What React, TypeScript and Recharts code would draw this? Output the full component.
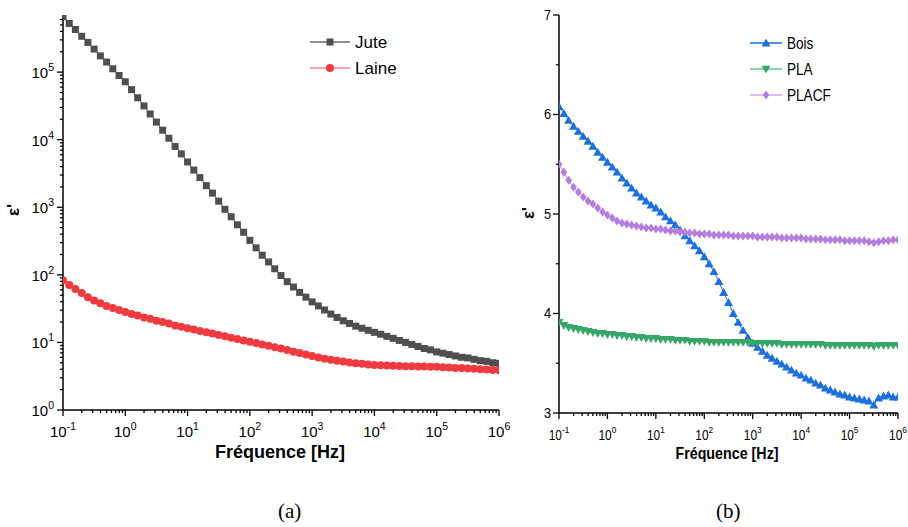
import React from 'react'
import { LineChart, Line, XAxis, YAxis } from 'recharts'

// frequency points (Hz), 10 per decade
const freq = [
  0.1, 0.126, 0.158, 0.2, 0.251, 0.316, 0.398, 0.501, 0.631, 0.794,
  1, 1.26, 1.58, 2, 2.51, 3.16, 3.98, 5.01, 6.31, 7.94,
  10, 12.6, 15.8, 20, 25.1, 31.6, 39.8, 50.1, 63.1, 79.4,
  100, 126, 158, 200, 251, 316, 398, 501, 631, 794,
  1000, 1259, 1585, 1995, 2512, 3162, 3981, 5012, 6310, 7943,
  1e4, 12589, 15849, 19953, 25119, 31623, 39811, 50119, 63096, 79433,
  1e5, 125893, 158489, 199526, 251189, 316228, 398107, 501187, 630957, 794328,
  1e6,
]

// (a) permittivity, log scale
const jute = [
  6.6e5, 5.25e5, 4.27e5, 3.39e5, 2.75e5, 2.19e5, 1.74e5, 1.41e5, 1.12e5, 8.9e4,
  7.2e4, 5.5e4, 4.17e4, 3.16e4, 2.4e4, 1.82e4, 1.38e4, 1.05e4, 7940, 6170,
  4680, 3550, 2750, 2090, 1620, 1230, 933, 724, 550, 427,
  324, 251, 195, 155, 123, 97.7, 79.4, 66.1, 55, 46.8,
  39.8, 34.7, 30.2, 26.3, 23.4, 20.9, 19.1, 17.4, 16.2, 15.1,
  14.1, 13.2, 12.3, 11.5, 10.7, 10.0, 9.33, 8.71, 8.13, 7.76,
  7.24, 6.92, 6.61, 6.31, 6.03, 5.89, 5.62, 5.37, 5.25, 5.01,
  4.9,
]
const laine = [
  83.2, 70.8, 61.7, 53.7, 46.8, 41.7, 38.0, 34.7, 32.4, 30.2,
  28.2, 26.3, 25.1, 23.4, 22.4, 20.9, 20.0, 19.1, 17.8, 17.0,
  16.2, 15.5, 14.8, 14.1, 13.5, 12.9, 12.3, 11.7, 11.2, 10.7,
  10.2, 9.8, 9.35, 8.9, 8.5, 8.1, 7.7, 7.3, 6.95, 6.6,
  6.3, 6.0, 5.75, 5.55, 5.37, 5.2, 5.06, 4.93, 4.82, 4.72,
  4.65, 4.6, 4.55, 4.5, 4.47, 4.45, 4.43, 4.41, 4.39, 4.37,
  4.35, 4.3, 4.27, 4.2, 4.17, 4.1, 4.07, 4.0, 3.97, 3.92,
  3.89,
]

// (b) permittivity, linear scale
const bois = [
  6.08, 6.01, 5.94, 5.88, 5.83, 5.78, 5.73, 5.68, 5.62, 5.57,
  5.52, 5.47, 5.42, 5.36, 5.31, 5.26, 5.21, 5.17, 5.13, 5.09,
  5.06, 5.02, 4.97, 4.93, 4.89, 4.84, 4.78, 4.73, 4.68, 4.63,
  4.57, 4.5, 4.42, 4.32, 4.21, 4.11, 4.0, 3.91, 3.83, 3.76,
  3.7, 3.66, 3.62, 3.58, 3.55, 3.52, 3.49, 3.46, 3.43, 3.4,
  3.38, 3.35, 3.33, 3.3, 3.28, 3.25, 3.23, 3.21, 3.19, 3.18,
  3.16, 3.15, 3.14, 3.13, 3.12, 3.08, 3.15, 3.17, 3.18, 3.16,
  3.16,
]
const pla = [
  3.91, 3.88, 3.86, 3.85, 3.84, 3.83, 3.82, 3.81, 3.8, 3.8,
  3.79, 3.79, 3.78, 3.78, 3.77, 3.77, 3.76, 3.76, 3.75, 3.75,
  3.75, 3.74, 3.74, 3.74, 3.73, 3.73, 3.73, 3.72, 3.72, 3.72,
  3.72, 3.71, 3.71, 3.71, 3.71, 3.71, 3.71, 3.71, 3.71, 3.71,
  3.7, 3.7, 3.7, 3.7, 3.7, 3.7, 3.69, 3.69, 3.69, 3.69,
  3.69, 3.69, 3.69, 3.69, 3.69, 3.68, 3.68, 3.68, 3.68, 3.68,
  3.68, 3.68, 3.68, 3.68, 3.68, 3.67, 3.68, 3.68, 3.68, 3.68,
  3.68,
]
const placf = [
  5.5, 5.42, 5.34, 5.27, 5.22, 5.17, 5.13, 5.1, 5.06, 5.02,
  4.99, 4.96, 4.93, 4.91, 4.9, 4.89, 4.88, 4.87, 4.86, 4.86,
  4.85, 4.85, 4.84, 4.83, 4.83, 4.82, 4.82, 4.81, 4.81, 4.8,
  4.8, 4.8, 4.79, 4.79, 4.79, 4.79, 4.78, 4.78, 4.78, 4.78,
  4.78, 4.77, 4.77, 4.77, 4.77, 4.77, 4.76, 4.76, 4.76, 4.76,
  4.76, 4.75, 4.75, 4.75, 4.75, 4.74, 4.74, 4.74, 4.74, 4.73,
  4.73, 4.73, 4.73, 4.73, 4.72, 4.71, 4.72, 4.73, 4.73, 4.74,
  4.74,
]

const decadesX = [0.1, 1, 10, 100, 1000, 1e4, 1e5]
const decadesY = [1, 10, 100, 1000, 1e4, 1e5]
const linTicksB = [3, 3.5, 4, 4.5, 5, 5.5, 6, 6.5, 7]

const SANS = '"Liberation Sans", Arial, sans-serif'

const logTicks = (decades: number[], last: number) => {
  const out: number[] = []
  decades.forEach(d => {
    for (let m = 1; m <= 9; m++) out.push(d * m)
  })
  return out.filter(v => v <= last * 1.0001).concat(decades.includes(last) ? [] : [last])
}
const xTicks = logTicks(decadesX, 1e6)
const yTicksA = [...logTicks(decadesY, 1e5), 2e5, 3e5, 4e5, 5e5, 6e5]

const isDecade = (v: number) => Math.abs(Math.log10(v) - Math.round(Math.log10(v))) < 1e-6
const expOf = (v: number) => Math.round(Math.log10(v))

const dataA = freq.map((f, i) => ({ f, jute: jute[i], laine: laine[i] }))
const dataB = freq.map((f, i) => ({ f, bois: bois[i], pla: pla[i], placf: placf[i] }))

type Shape = 'square' | 'circle' | 'up' | 'down' | 'diamond'

function Marker({ cx, cy, shape, color, size }: { cx: number; cy: number; shape: Shape; color: string; size: number }) {
  const h = size / 2
  if (shape === 'square') return <rect x={cx - h} y={cy - h} width={size} height={size} fill={color} />
  if (shape === 'circle') return <circle cx={cx} cy={cy} r={h} fill={color} />
  if (shape === 'up') return <polygon points={`${cx},${cy - h} ${cx + h},${cy + h * 0.75} ${cx - h},${cy + h * 0.75}`} fill={color} />
  if (shape === 'down') return <polygon points={`${cx},${cy + h} ${cx + h},${cy - h * 0.75} ${cx - h},${cy - h * 0.75}`} fill={color} />
  return <polygon points={`${cx},${cy - h} ${cx + h * 0.75},${cy} ${cx},${cy + h} ${cx - h * 0.75},${cy}`} fill={color} />
}

const dotFor = (shape: Shape, color: string, size: number) => (p: any) =>
  p.cx == null || p.cy == null ? <g key={`n-${p.index}`} /> : (
    <Marker key={`d-${p.index}`} cx={p.cx} cy={p.cy} shape={shape} color={color} size={size} />
  )

// condensed look for panel (b): squeeze plain sans text horizontally
const squeeze = (x: number, k: number) => `translate(${x} 0) scale(${k} 1) translate(${-x} 0)`

function LogXTick(p: any) {
  const { x, y, payload, size, k } = p
  const v = payload.value
  const major = isDecade(v)
  return (
    <g>
      <line x1={x} x2={x} y1={y} y2={y + (major ? 6 : 3)} stroke="#000" strokeWidth={1.3} />
      {major && (
        <text x={x} y={y + 27} textAnchor="middle" fontFamily={SANS} fontSize={size} fill="#000" transform={squeeze(x, k)}>
          <tspan>10</tspan>
          <tspan dy={-7} fontSize={size * 0.7}>{expOf(v)}</tspan>
        </text>
      )}
    </g>
  )
}

function LogYTick(p: any) {
  const { x, y, payload } = p
  const v = payload.value
  const major = isDecade(v)
  return (
    <g>
      <line x1={x - (major ? 6 : 3)} x2={x} y1={y} y2={y} stroke="#000" strokeWidth={1.3} />
      {major && (
        <text x={x - 9} y={y + 6} textAnchor="end" fontFamily={SANS} fontSize={15} fill="#000">
          <tspan>10</tspan>
          <tspan dy={-7} fontSize={10.5}>{expOf(v)}</tspan>
        </text>
      )}
    </g>
  )
}

function LinYTick(p: any) {
  const { x, y, payload } = p
  const v = payload.value
  const major = Number.isInteger(v)
  return (
    <g>
      <line x1={x - (major ? 6 : 3)} x2={x} y1={y} y2={y} stroke="#000" strokeWidth={1.3} />
      {major && (
        <text x={x - 8} y={y + 5} textAnchor="end" fontFamily={SANS} fontSize={15} fill="#000" transform={squeeze(x - 8, 0.85)}>
          {v}
        </text>
      )}
    </g>
  )
}

const seriesA = [
  { key: 'jute', name: 'Jute', color: '#4f4f4f', line: '#6a6a6a', shape: 'square' as Shape, size: 7 },
  { key: 'laine', name: 'Laine', color: '#ef3b3f', line: '#f58a8c', shape: 'circle' as Shape, size: 8 },
]
const seriesB = [
  { key: 'bois', name: 'Bois', color: '#1c6fdf', line: '#1c6fdf', shape: 'up' as Shape, size: 9 },
  { key: 'pla', name: 'PLA', color: '#37a768', line: '#6cc193', shape: 'down' as Shape, size: 9 },
  { key: 'placf', name: 'PLACF', color: '#b47ddf', line: '#cfa8ec', shape: 'diamond' as Shape, size: 9 },
]

function LegendBox({ items, width, gap, lineLen, fontSize, k }: any) {
  return (
    <svg width={width} height={items.length * gap + 6} style={{ display: 'block' }}>
      {items.map((s: any, i: number) => {
        const cy = 13 + i * gap
        const tx = lineLen + 7
        return (
          <g key={s.key}>
            <line x1={2} x2={2 + lineLen} y1={cy} y2={cy} stroke={s.line} strokeWidth={1.5} />
            <Marker cx={2 + lineLen / 2} cy={cy} shape={s.shape} color={s.color} size={s.size} />
            <text x={tx} y={cy + 6} fontFamily={SANS} fontSize={fontSize} fill="#000" transform={squeeze(tx, k)}>{s.name}</text>
          </g>
        )
      })}
    </svg>
  )
}

const axisLine = { stroke: '#000', strokeWidth: 1.5 }

export default function App() {
  return (
    <div style={{ position: 'absolute', left: 0, top: 0, width: 908, height: 527, background: '#fff', overflow: 'hidden' }}>
      <div style={{ position: 'absolute', left: 0, top: 0 }}>
        <LineChart width={520} height={470} data={dataA} margin={{ top: 15, right: 21, left: 8, bottom: 0 }}>
          <XAxis
            dataKey="f" type="number" scale="log" domain={[0.1, 1e6]} allowDataOverflow
            ticks={xTicks} interval={0} tickSize={0} tickMargin={0} tickLine={false}
            axisLine={axisLine} height={60}
            tick={(p: any) => <LogXTick {...p} size={15} k={1} />}
            label={() => (
              <text x={280} y={458} textAnchor="middle" fontFamily={SANS} fontWeight="bold" fontSize={18} fill="#000">
                Fréquence [Hz]
              </text>
            )}
          />
          <XAxis xAxisId="top" orientation="top" dataKey="f" type="number" scale="log" domain={[0.1, 1e6]} height={0} tick={false} tickLine={false} axisLine={axisLine} />
          <YAxis
            type="number" scale="log" domain={[1, 7e5]} allowDataOverflow
            ticks={yTicksA} interval={0} tickSize={0} tickMargin={0} tickLine={false}
            axisLine={axisLine} width={55}
            tick={(p: any) => <LogYTick {...p} />}
            label={() => (
              <text x={19} y={210} transform="rotate(-90 19 210)" textAnchor="middle" fontFamily={SANS} fontWeight="bold" fontSize={17} fill="#000">
                ε'
              </text>
            )}
          />
          <YAxis yAxisId="right" orientation="right" width={0} tick={false} tickLine={false} axisLine={axisLine} />
          {seriesA.map(s => (
            <Line key={s.key} dataKey={s.key} name={s.name} stroke={s.color} strokeWidth={1}
              dot={dotFor(s.shape, s.color, s.size)} isAnimationActive={false} />
          ))}
        </LineChart>
      </div>
      <div style={{ position: 'absolute', left: 308, top: 29 }}>
        <LegendBox items={seriesA} width={110} gap={26} lineLen={40} fontSize={17} k={1} />
      </div>

      <div style={{ position: 'absolute', left: 520, top: 0 }}>
        <LineChart width={388} height={470} data={dataB} margin={{ top: 15, right: 10, left: 4, bottom: 0 }}>
          <XAxis
            dataKey="f" type="number" scale="log" domain={[0.1, 1e6]} allowDataOverflow
            ticks={xTicks} interval={0} tickSize={0} tickMargin={0} tickLine={false}
            axisLine={axisLine} height={57}
            tick={(p: any) => <LogXTick {...p} size={14} k={0.85} />}
            label={() => (
              <text x={207} y={459} textAnchor="middle" fontFamily={SANS} fontWeight="bold" fontSize={17} fill="#000" transform={squeeze(207, 0.84)}>
                Fréquence [Hz]
              </text>
            )}
          />
          <XAxis xAxisId="top" orientation="top" dataKey="f" type="number" scale="log" domain={[0.1, 1e6]} height={0} tick={false} tickLine={false} axisLine={axisLine} />
          <YAxis
            type="number" domain={[3, 7]} allowDataOverflow
            ticks={linTicksB} interval={0} tickSize={0} tickMargin={0} tickLine={false}
            axisLine={axisLine} width={35}
            tick={(p: any) => <LinYTick {...p} />}
            label={() => (
              <text x={14} y={213} transform="rotate(-90 14 213)" textAnchor="middle" fontFamily={SANS} fontWeight="bold" fontSize={16} fill="#000">
                ε'
              </text>
            )}
          />
          <YAxis yAxisId="right" orientation="right" width={0} tick={false} tickLine={false} axisLine={axisLine} />
          {seriesB.map(s => (
            <Line key={s.key} dataKey={s.key} name={s.name} stroke={s.color} strokeWidth={1}
              dot={dotFor(s.shape, s.color, s.size)} isAnimationActive={false} />
          ))}
        </LineChart>
      </div>
      <div style={{ position: 'absolute', left: 748, top: 30 }}>
        <LegendBox items={seriesB} width={120} gap={26} lineLen={32} fontSize={16} k={0.85} />
      </div>

      <div style={{ position: 'absolute', left: 278, top: 499, fontFamily: '"Liberation Serif", serif', fontSize: 21 }}>(a)</div>
      <div style={{ position: 'absolute', left: 716, top: 499, fontFamily: '"Liberation Serif", serif', fontSize: 21 }}>(b)</div>
    </div>
  )
}
